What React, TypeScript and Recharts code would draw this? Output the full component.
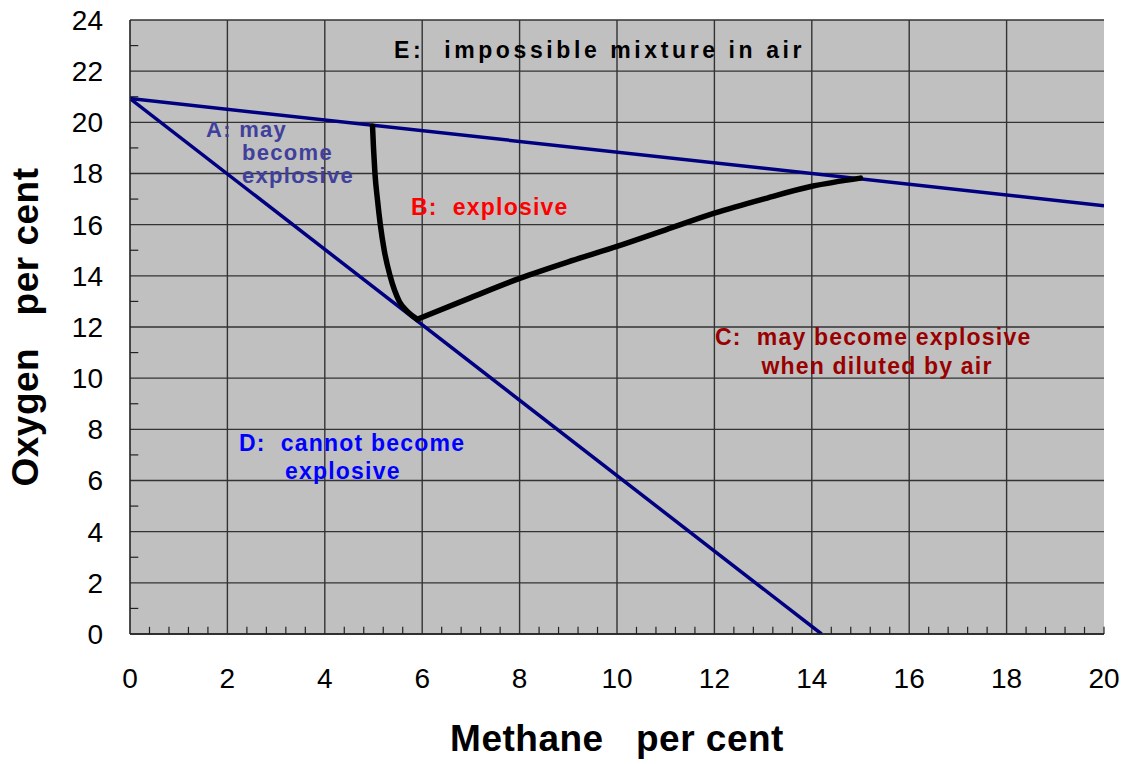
import React from 'react';
import { LineChart, Line, XAxis, YAxis, CartesianGrid, ReferenceLine } from 'recharts';

// Air-dilution line: O2 = 20.93 * (1 - CH4 / 100)
const airLine = [
  { x: 0, y: 20.93 },
  { x: 20, y: 16.74 },
];

// Nose line: below it a mixture can never become explosive
const noseLine = [
  { x: 0, y: 20.93 },
  { x: 14.2, y: 0 },
];

// Explosive envelope, lower limit branch (top down to the nose)
const lowerLimit = [
  { x: 4.98, y: 19.85 },
  { x: 5.0, y: 19.0 },
  { x: 5.03, y: 18.0 },
  { x: 5.08, y: 17.0 },
  { x: 5.14, y: 16.0 },
  { x: 5.22, y: 15.0 },
  { x: 5.34, y: 14.0 },
  { x: 5.53, y: 13.0 },
  { x: 5.71, y: 12.58 },
  { x: 5.9, y: 12.3 },
];

// Explosive envelope, upper limit branch (nose up to the air line)
const upperLimit = [
  { x: 5.9, y: 12.3 },
  { x: 7, y: 13.15 },
  { x: 8, y: 13.9 },
  { x: 9, y: 14.55 },
  { x: 10, y: 15.15 },
  { x: 11, y: 15.8 },
  { x: 12, y: 16.45 },
  { x: 13, y: 17.0 },
  { x: 14, y: 17.5 },
  { x: 15, y: 17.82 },
];

const methaneTicks = [0, 2, 4, 6, 8, 10, 12, 14, 16, 18, 20];
const oxygenTicks = [0, 2, 4, 6, 8, 10, 12, 14, 16, 18, 20, 22, 24];
const methaneGrid = [2, 4, 6, 8, 10, 12, 14, 16, 18];
const oxygenMinor = [1, 3, 5, 7, 9, 11, 13, 15, 17, 19, 21, 23];
const methaneMinor = methaneTicks
  .flatMap((t) => [0.4, 0.8, 1.2, 1.6].map((d) => +(t + d).toFixed(1)))
  .filter((v) => v < 20)
  .concat([20]);

const FONT = '"Liberation Sans", Arial, Helvetica, sans-serif';
const GRID = '#333';

const tickStyle = { fill: '#000', fontSize: 28, fontFamily: FONT };
const noteStyle: React.CSSProperties = {
  fontFamily: FONT,
  fontWeight: 'bold',
  fontSize: 23,
  letterSpacing: 1.2,
  whiteSpace: 'pre',
};
const areaAStyle: React.CSSProperties = { ...noteStyle, fontSize: 22, letterSpacing: 1.3 };
const titleStyle: React.CSSProperties = {
  fontFamily: FONT,
  fontWeight: 'bold',
  fontSize: 37,
  letterSpacing: 0.5,
  whiteSpace: 'pre',
};

export default function App() {
  return (
    <div style={{ position: 'absolute', left: 0, top: 0, width: 1133, height: 764, background: '#fff' }}>
      <LineChart
        width={1133}
        height={764}
        margin={{ top: 20, right: 29, left: 0, bottom: 0 }}
      >
        <CartesianGrid vertical={false} fill="#c0c0c0" stroke={GRID} strokeWidth={1.4} />
        <XAxis
          type="number"
          dataKey="x"
          domain={[0, 20]}
          ticks={methaneTicks}
          height={130}
          tickLine={false}
          tickSize={0}
          tickMargin={34}
          axisLine={{ stroke: '#222', strokeWidth: 1.6 }}
          tick={tickStyle}
          allowDataOverflow
        />
        <YAxis
          type="number"
          dataKey="y"
          domain={[0, 24]}
          ticks={oxygenTicks}
          width={130}
          tickLine={false}
          tickSize={0}
          tickMargin={27}
          axisLine={{ stroke: '#222', strokeWidth: 1.6 }}
          tick={tickStyle}
          allowDataOverflow
        />
        {methaneGrid.map((v) => (
          <ReferenceLine key={`gx-${v}`} x={v} stroke={GRID} strokeWidth={1.4} />
        ))}
        {methaneMinor.map((v) => (
          <ReferenceLine
            key={`mx-${v}`}
            segment={[{ x: v, y: 0 }, { x: v, y: 0.28 }]}
            stroke="#222"
            strokeWidth={1.2}
          />
        ))}
        {oxygenMinor.map((v) => (
          <ReferenceLine
            key={`my-${v}`}
            segment={[{ x: 0, y: v }, { x: 0.17, y: v }]}
            stroke="#222"
            strokeWidth={1.2}
          />
        ))}
        <Line
          data={airLine}
          dataKey="y"
          type="linear"
          stroke="#000080"
          strokeWidth={3.5}
          dot={false}
          isAnimationActive={false}
        />
        <Line
          data={noseLine}
          dataKey="y"
          type="linear"
          stroke="#000080"
          strokeWidth={3.5}
          dot={false}
          isAnimationActive={false}
        />
        <Line
          data={lowerLimit}
          dataKey="y"
          type="monotone"
          stroke="#000"
          strokeWidth={5.5}
          strokeLinecap="round"
          dot={false}
          isAnimationActive={false}
        />
        <Line
          data={upperLimit}
          dataKey="y"
          type="monotone"
          stroke="#000"
          strokeWidth={5.5}
          strokeLinecap="round"
          dot={false}
          isAnimationActive={false}
        />
      </LineChart>

      <svg
        width={1133}
        height={764}
        style={{ position: 'absolute', left: 0, top: 0, pointerEvents: 'none' }}
      >
        <text x={394} y={58} fill="#000" xmlSpace="preserve" style={{ ...noteStyle, letterSpacing: 3.6 }}>
          {'E:  impossible mixture in air'}
        </text>
        <text x={206} y={137} fill="#40409c" style={areaAStyle}>A: may</text>
        <text x={242} y={160} fill="#40409c" style={areaAStyle}>become</text>
        <text x={242} y={183} fill="#40409c" style={areaAStyle}>explosive</text>
        <text x={411} y={215} fill="#ff0000" xmlSpace="preserve" style={noteStyle}>
          {'B:  explosive'}
        </text>
        <text x={715} y={345} fill="#990000" xmlSpace="preserve" style={noteStyle}>
          {'C:  may become explosive'}
        </text>
        <text x={877} y={374} fill="#990000" textAnchor="middle" style={noteStyle}>
          when diluted by air
        </text>
        <text x={239} y={451} fill="#0000ff" xmlSpace="preserve" style={noteStyle}>
          {'D:  cannot become'}
        </text>
        <text x={285} y={479} fill="#0000ff" style={noteStyle}>
          explosive
        </text>
        <text x={617} y={751} textAnchor="middle" fill="#000" xmlSpace="preserve" style={titleStyle}>
          {'Methane   per cent'}
        </text>
        <text
          x={0}
          y={0}
          transform="translate(38,327) rotate(-90)"
          textAnchor="middle"
          fill="#000"
          xmlSpace="preserve"
          style={titleStyle}
        >
          {'Oxygen   per cent'}
        </text>
      </svg>
    </div>
  );
}
